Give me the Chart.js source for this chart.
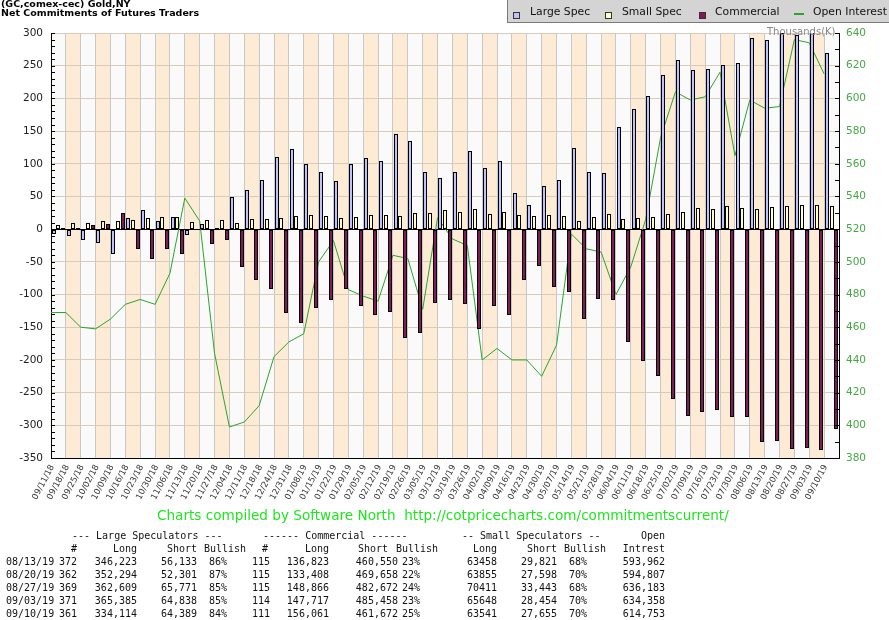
<!DOCTYPE html>
<html>
<head>
<meta charset="utf-8">
<script src="https://cdn.jsdelivr.net/npm/chart.js@4.4.0/dist/chart.umd.min.js"></script>
<style>
  body { margin: 0; background: #fff; }
  #wrap { position: relative; width: 889px; height: 620px; overflow: hidden; font-family: "DejaVu Sans", sans-serif; }
  #chart { position: absolute; left: 0; top: 0; }
  .title { position: absolute; left: 1px; font-weight: bold; font-size: 9.5px; line-height: 10px; color: #000; white-space: nowrap; }
  #legend { position: absolute; left: 507px; top: 0; width: 382px; height: 22px; background: #d4d4d4; border-left: 1px solid #7a7a7a; border-bottom: 1px solid #7a7a7a; }
  .lg { position: absolute; top: 6px; font-size: 10.8px; line-height: 12px; color: #111; white-space: nowrap; }
  .sw { position: absolute; top: 12px; width: 5px; height: 5px; border: 1px solid #333; }
  #unit { position: absolute; left: 767px; top: 26px; font-size: 10px; line-height: 12px; color: #888; }
  #footer { position: absolute; left: 157px; top: 507px; font-size: 13.6px; line-height: 16px; color: #1ee61e; white-space: pre; }
  .cell { position: absolute; font-family: "DejaVu Sans Mono", monospace; font-size: 10px; line-height: 12px; color: #111; white-space: pre; }
</style>
</head>
<body>
<div id="wrap">
  <canvas id="chart" width="889" height="620"></canvas>
  <div class="title" style="top:-1px">(GC,comex-cec) Gold,NY</div>
  <div class="title" style="top:8px">Net Commitments of Futures Traders</div>
  <div id="legend">
    <div class="sw" style="left:5px;background:#c0c0ff"></div><div class="lg" style="left:22px">Large Spec</div>
    <div class="sw" style="left:97px;background:#ffffc0"></div><div class="lg" style="left:114px">Small Spec</div>
    <div class="sw" style="left:191px;background:#801a5a"></div><div class="lg" style="left:207px">Commercial</div>
    <div style="position:absolute;left:286px;top:13px;width:10px;height:2px;background:#2aa52a"></div><div class="lg" style="left:305px">Open Interest</div>
  </div>
  <div id="unit">Thousands(K)</div>
  <div id="footer">Charts compiled by Software North  http://cotpricecharts.com/commitmentscurrent/</div>
  <div id="table"></div>
</div>
<script>
const weeks = [
  '09/11/18','09/18/18','09/25/18','10/02/18','10/09/18','10/16/18','10/23/18','10/30/18',
  '11/06/18','11/13/18','11/20/18','11/27/18','12/04/18','12/11/18','12/18/18','12/24/18',
  '12/31/18','01/08/19','01/15/19','01/22/19','01/29/19','02/05/19','02/12/19','02/19/19',
  '02/26/19','03/05/19','03/12/19','03/19/19','03/26/19','04/02/19','04/09/19','04/16/19',
  '04/23/19','04/30/19','05/07/19','05/14/19','05/21/19','05/28/19','06/04/19','06/11/19',
  '06/18/19','06/25/19','07/02/19','07/09/19','07/16/19','07/23/19','07/30/19','08/06/19',
  '08/13/19','08/20/19','08/27/19','09/03/19','09/10/19'
];

// net positions, thousands of contracts
const largeSpec = [
  -8, -11, -17, -21, -38, 17, 29, 12, 18, -9, 8, 1, 49, 60, 75, 110,
  122, 100, 87, 74, 100, 109, 104, 145, 135, 87, 78, 87, 119, 93, 104, 55,
  37, 66, 75, 124, 87, 86, 156, 184, 204, 236, 259, 243, 245, 251, 254, 292,
  290, 300, 297, 301, 270
];
const smallSpec = [
  6, 9, 9, 12, 12, 14, 17, 18, 18, 11, 14, 14, 9, 15, 15, 17,
  20, 21, 20, 17, 18, 21, 21, 20, 25, 25, 29, 26, 31, 23, 26, 21,
  20, 21, 20, 12, 18, 23, 15, 17, 18, 23, 26, 32, 31, 35, 32, 31,
  34, 36, 37, 37, 36
];
const commercial = [
  1, 1, 6, 8, 24, -31, -46, -31, -38, -2, -23, -17, -58, -78, -92, -129,
  -144, -121, -109, -92, -118, -132, -127, -167, -159, -113, -109, -115, -152, -118, -132, -78,
  -57, -89, -96, -138, -107, -109, -173, -202, -224, -260, -286, -279, -277, -288, -288, -325,
  -324, -336, -334, -338, -306
];
const openInterest = [
  469, 469, 460, 459, 465, 474, 477, 474, 493, 539, 525, 444, 399, 402, 412, 442,
  451, 456, 500, 513, 483, 479, 476, 504, 502, 471, 527, 514, 510, 440, 447, 440,
  440, 430, 449, 517, 508, 506, 480, 497, 526, 576, 604, 599, 601, 616, 565, 599,
  594, 595, 636, 634, 615
];

// text table under the chart
const tableRows = [
  ['08/13/19', '372', '346,223', '56,133', '86%', '115', '136,823', '460,550', '23%', '63458', '29,821', '68%', '593,962'],
  ['08/20/19', '362', '352,294', '52,301', '87%', '115', '133,408', '469,658', '22%', '63855', '27,598', '70%', '594,807'],
  ['08/27/19', '369', '362,609', '65,771', '85%', '115', '148,866', '482,672', '24%', '70411', '33,443', '68%', '636,183'],
  ['09/03/19', '371', '365,385', '64,838', '85%', '114', '147,717', '485,458', '23%', '65648', '28,454', '70%', '634,358'],
  ['09/10/19', '361', '334,114', '64,389', '84%', '111', '156,061', '461,672', '25%', '63541', '27,655', '70%', '614,753']
];

const table = document.getElementById('table');
function cell(text, x, y, right) {
  const d = document.createElement('div');
  d.className = 'cell';
  d.textContent = text;
  d.style.top = (y - 6) + 'px';
  if (right) d.style.right = (889 - x) + 'px'; else d.style.left = x + 'px';
  table.appendChild(d);
}
cell('--- Large Speculators ---', 72, 536);
cell('------ Commercial ------', 263, 536);
cell('-- Small Speculators --', 462, 536);
cell('Open', 665, 536, true);
[['#', 77, 1], ['Long', 137, 1], ['Short', 197, 1], ['Bullish', 204, 0], ['#', 268, 1], ['Long', 329, 1],
 ['Short', 388, 1], ['Bullish', 396, 0], ['Long', 497, 1], ['Short', 557, 1], ['Bullish', 564, 0], ['Intrest', 665, 1]]
  .forEach(h => cell(h[0], h[1], 549, h[2]));
const cols = [[6, 0], [77, 1], [137, 1], [197, 1], [209, 0], [270, 1], [329, 1], [398, 1], [402, 0], [497, 1], [557, 1], [569, 0], [665, 1]];
tableRows.forEach((r, k) => {
  r.forEach((t, j) => cell(t, cols[j][0], 562 + k * 12.9, cols[j][1]));
});

const bands = {
  id: 'bands',
  beforeDraw(chart) {
    const { ctx, chartArea: a, scales: { x } } = chart;
    const step = x.getPixelForValue(1) - x.getPixelForValue(0);
    ctx.save();
    for (let i = 0; i < weeks.length; i++) {
      const c = x.getPixelForValue(i);
      ctx.fillStyle = i % 2 ? '#fdebd6' : '#fafafa';
      ctx.fillRect(c - step / 2, a.top, step, a.bottom - a.top);
    }
    ctx.restore();
  }
};

// snap bars to whole pixels so the black outlines stay sharp
const crispBars = {
  id: 'crispBars',
  beforeDatasetsDraw(chart) {
    chart.data.datasets.forEach((ds, k) => {
      const meta = chart.getDatasetMeta(k);
      if (meta.type !== 'bar') return;
      meta.data.forEach(el => {
        const left = Math.round(el.x - el.width / 2);
        el.width = 4;
        el.x = left + 2;
        el.y = Math.round(el.y);
        el.base = Math.round(el.base);
      });
    });
  }
};

// open interest is plotted on the week boundary, not the week centre
const shiftLine = {
  id: 'shiftLine',
  beforeDatasetDraw(chart, args) {
    if (args.meta.type !== 'line') return;
    const x = chart.scales.x;
    const half = (x.getPixelForValue(1) - x.getPixelForValue(0)) / 2;
    chart.ctx.save();
    chart.ctx.translate(-half, 0);
  },
  afterDatasetDraw(chart, args) {
    if (args.meta.type === 'line') chart.ctx.restore();
  }
};

const minorTicks = {
  id: 'minorTicks',
  afterDraw(chart) {
    const { ctx, scales: { y, y1 } } = chart;
    ctx.save();
    ctx.strokeStyle = '#000';
    ctx.lineWidth = 1;
    ctx.beginPath();
    for (let v = y.min; v <= y.max; v += 10) {
      const p = Math.round(y.getPixelForValue(v)) + 0.5;
      ctx.moveTo(y.right, p); ctx.lineTo(y.right + 4, p);
    }
    for (let v = y1.min; v <= y1.max; v += 10) {
      const p = Math.round(y1.getPixelForValue(v)) + 0.5;
      ctx.moveTo(y1.left, p); ctx.lineTo(y1.left - 4, p);
    }
    ctx.stroke();
    ctx.restore();
  }
};

Chart.defaults.font.family = 'DejaVu Sans';

const barStyle = { borderColor: '#000', borderWidth: 1, borderSkipped: false, categoryPercentage: 0.96, barPercentage: 0.85, order: 1 };

new Chart(document.getElementById('chart'), {
  type: 'bar',
  data: {
    labels: weeks,
    datasets: [
      { ...barStyle, label: 'Large Spec', data: largeSpec, backgroundColor: '#c0c0ff' },
      { ...barStyle, label: 'Small Spec', data: smallSpec, backgroundColor: '#ffffc0' },
      { ...barStyle, label: 'Commercial', data: commercial, backgroundColor: '#801a5a' },
      {
        type: 'line', label: 'Open Interest', data: openInterest, yAxisID: 'y1',
        borderColor: '#2aa52a', borderWidth: 1, pointRadius: 0, tension: 0, order: 5
      }
    ]
  },
  options: {
    responsive: false,
    animation: false,
    layout: { padding: { top: 33, left: 0, right: 0, bottom: 112 } },
    plugins: { legend: { display: false }, tooltip: { enabled: false } },
    scales: {
      x: {
        type: 'category', offset: true,
        grid: { offset: true, color: '#c8c8c8', drawTicks: false },
        border: { color: '#000' },
        ticks: { autoSkip: false, minRotation: 62, maxRotation: 62, labelOffset: -6, padding: 5, color: '#333', font: { size: 8.5 } },
        afterFit: s => { s.height = 50; }
      },
      y: {
        position: 'left', min: -350, max: 300,
        ticks: { stepSize: 50, color: '#222', padding: 8, font: { size: 10.5 } },
        grid: { color: c => c.tick.value === 0 ? '#000' : '#d8cbb8', drawTicks: false },
        border: { color: '#000' },
        afterFit: s => { s.width = 51; }
      },
      y1: {
        position: 'right', min: 380, max: 640,
        ticks: { stepSize: 20, color: '#44a844', padding: 7, font: { size: 10.5 } },
        grid: { drawOnChartArea: false, drawTicks: false },
        border: { color: '#000' },
        afterFit: s => { s.width = 50; }
      }
    }
  },
  plugins: [bands, crispBars, shiftLine, minorTicks]
});
</script>
</body>
</html>
